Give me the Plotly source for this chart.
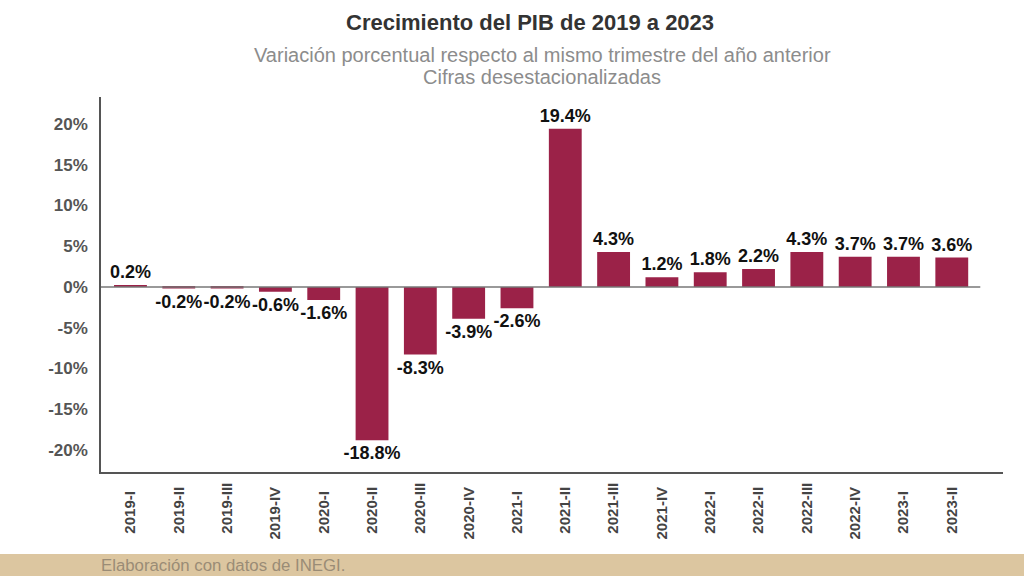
import plotly.graph_objects as go

categories = ["2019-I", "2019-II", "2019-III", "2019-IV",
              "2020-I", "2020-II", "2020-III", "2020-IV",
              "2021-I", "2021-II", "2021-III", "2021-IV",
              "2022-I", "2022-II", "2022-III", "2022-IV",
              "2023-I", "2023-II"]
growth = [0.2, -0.2, -0.2, -0.6,
          -1.6, -18.8, -8.3, -3.9,
          -2.6, 19.4, 4.3, 1.2,
          1.8, 2.2, 4.3, 3.7,
          3.7, 3.6]
y_ticks = [-20, -15, -10, -5, 0, 5, 10, 15, 20]

title = "Crecimiento del PIB de 2019 a 2023"
subtitle1 = "Variación porcentual respecto al mismo trimestre del año anterior"
subtitle2 = "Cifras desestacionalizadas"
source = "Elaboración con datos de INEGI."

BAR = "#9b2248"
FONT = "Liberation Sans, Arial, sans-serif"

x_idx = list(range(len(categories)))
maxlen = max(len(c) for c in categories)
tick_text = [c + "\u00a0" * (maxlen - len(c)) for c in categories]

fig = go.Figure()
fig.add_trace(go.Bar(
    x=x_idx, y=growth,
    marker=dict(color=BAR, line=dict(width=0)),
    width=0.68,
    text=[f"{v:.1f}%" for v in growth],
    textposition="outside",
    constraintext="none",
    textfont=dict(family=FONT, size=18, color="#111111", weight="bold"),
    cliponaxis=False,
    hoverinfo="skip",
))

fig.update_layout(
    width=1024, height=576,
    margin=dict(l=101, r=21, t=97, b=104, autoexpand=False),
    paper_bgcolor="white", plot_bgcolor="rgba(0,0,0,0)",
    showlegend=False,
    font=dict(family=FONT),
)

fig.update_xaxes(
    range=[-0.61, 18.06],
    tickmode="array", tickvals=x_idx, ticktext=tick_text,
    tickangle=-90,
    tickfont=dict(family=FONT, size=15, color="#444444", weight="bold"),
    showgrid=False, zeroline=False, automargin=False,
    showline=True, linecolor="#555555", linewidth=1.5,
    ticks="", ticklabelstandoff=3,
)
fig.update_yaxes(
    range=[-22.7, 23.3],
    tickmode="array", tickvals=y_ticks,
    ticktext=[f"{v}%" for v in y_ticks],
    tickfont=dict(family=FONT, size=17, color="#555555", weight="bold"),
    showgrid=False, zeroline=False, automargin=False,
    showline=True, linecolor="#555555", linewidth=1.5,
    ticks="", ticklabelstandoff=8,
)

# zero line
fig.add_shape(type="line", xref="x", yref="y", x0=-0.61, x1=17.59, y0=0, y1=0,
              line=dict(color="#777777", width=1.5), layer="above")

# footer band
fig.add_shape(type="rect", xref="paper", yref="paper",
              x0=-0.2, x1=1.1, y0=-104/375, y1=-(104 - 22)/375,
              fillcolor="#dcc6a0", line=dict(width=0), layer="below")

fig.add_annotation(text=title, xref="paper", yref="paper",
                   x=(530 - 101) / 902, y=(576 - 22 - 104) / 375,
                   xanchor="center", yanchor="middle", showarrow=False,
                   font=dict(family=FONT, size=22, color="#333333", weight="bold"))
fig.add_annotation(text=subtitle1, xref="paper", yref="paper",
                   x=(542 - 101) / 902, y=(576 - 55 - 104) / 375,
                   xanchor="center", yanchor="middle", showarrow=False,
                   font=dict(family=FONT, size=20, color="#8c8c8c"))
fig.add_annotation(text=subtitle2, xref="paper", yref="paper",
                   x=(542 - 101) / 902, y=(576 - 77 - 104) / 375,
                   xanchor="center", yanchor="middle", showarrow=False,
                   font=dict(family=FONT, size=20, color="#8c8c8c"))
fig.add_annotation(text=source, xref="paper", yref="paper",
                   x=-0.002, y=(576 - 565 - 104) / 375,
                   xanchor="left", yanchor="middle", showarrow=False,
                   font=dict(family=FONT, size=16.8, color="#9a8c76"))

fig.write_html("out.html",
               config={"displayModeBar": False},
               post_script="document.body.style.margin='0px';"
                           "document.body.style.overflow='hidden';")
